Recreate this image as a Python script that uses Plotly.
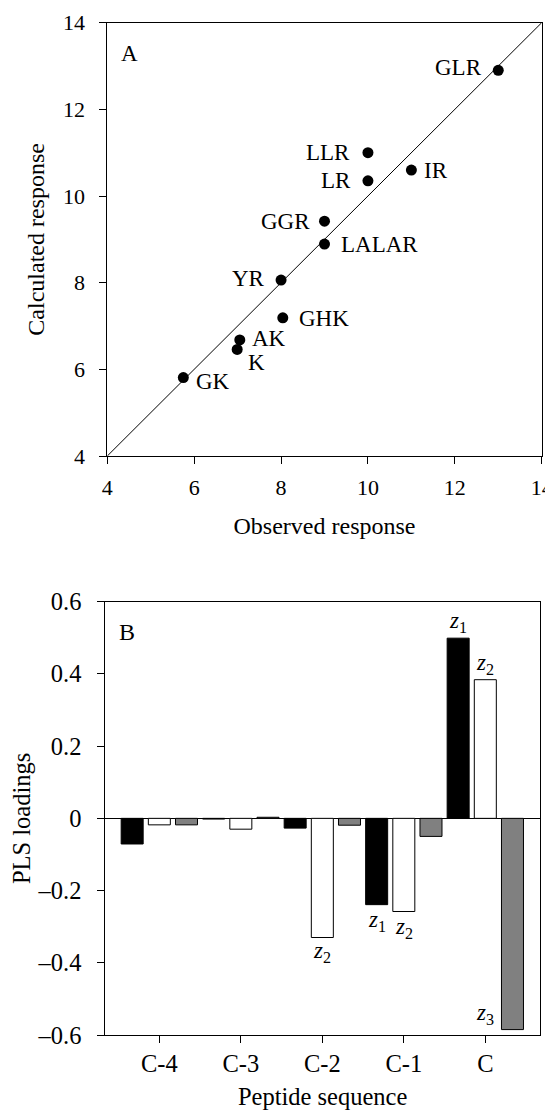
import plotly.graph_objects as go

# ---- Panel A data ----
peptides = ["GLR", "LLR", "LR", "IR", "GGR", "LALAR", "YR", "GHK", "AK", "K", "GK"]
observed = [13.0, 10.0, 10.0, 11.0, 9.0, 9.0, 8.0, 8.04, 7.05, 6.99, 5.75]
calculated = [12.9, 11.0, 10.35, 10.6, 9.42, 8.89, 8.06, 7.19, 6.68, 6.46, 5.81]
identity = [4, 14]
ytick_a_vals = [4, 6, 8, 10, 12, 14]

# ---- Panel B data ----
positions = ["C-4", "C-3", "C-2", "C-1", "C"]
z1 = [-0.071, -0.002, -0.027, -0.239, 0.499]
z2 = [-0.018, -0.030, -0.330, -0.258, 0.384]
z3 = [-0.018, 0.003, -0.019, -0.050, -0.585]
ytick_b_vals = [0.6, 0.4, 0.2, 0, -0.2, -0.4, -0.6]
ytick_b_text = ["0.6", "0.4", "0.2", "0", "\u20130.2", "\u20130.4", "\u20130.6"]

FONT = "Liberation Serif"
FS = 23

# label placement (style): (anchor side, xshift, yshift)
label_style = {
    "GLR": ("right", -14, 3), "LLR": ("right", -16, 0), "LR": ("right", -15, 0),
    "IR": ("left", 11, 0), "GGR": ("right", -13, 0), "LALAR": ("left", 14, 0),
    "YR": ("right", -14, 2), "GHK": ("left", 14, -1), "AK": ("left", 10, 1),
    "K": ("left", 9, -13), "GK": ("left", 11, -4),
}

fig = go.Figure()

fig.add_trace(go.Scatter(x=identity, y=identity, mode="lines",
                         line=dict(color="black", width=1), xaxis="x", yaxis="y",
                         showlegend=False, hoverinfo="skip"))
fig.add_trace(go.Scatter(x=observed, y=calculated, mode="markers",
                         marker=dict(color="black", size=11), xaxis="x", yaxis="y",
                         showlegend=False))

idx = list(range(len(positions)))
for vals, col in [(z1, "black"), (z2, "white"), (z3, "#808080")]:
    fig.add_trace(go.Bar(x=idx, y=vals, marker=dict(color=col, line=dict(color="black", width=1)),
                         xaxis="x2", yaxis="y2", showlegend=False))


def f(size):
    return dict(family=FONT, size=size, color="black")


tfont = f(FS)
annotations = []
for p, xo, yc in zip(peptides, observed, calculated):
    side, xs, ys = label_style[p]
    annotations.append(dict(x=xo, y=yc, xref="x", yref="y", text=p, showarrow=False,
                            xanchor=side, yanchor="middle", xshift=xs, yshift=ys,
                            font=tfont))

annotations.append(dict(x=0.028, y=0.93, xref="x domain", yref="y domain", text="A",
                        showarrow=False, xanchor="left", yanchor="middle", font=tfont))
annotations.append(dict(x=0.026, y=0.931, xref="x2 domain", yref="y2 domain", text="B",
                        showarrow=False, xanchor="left", yanchor="middle", font=f(24)))

slot = 1 / 3
zlabels = [
    (4 - slot, z1[4], "1", "bottom", 0),
    (4, z2[4], "2", "bottom", 0),
    (2, z2[2], "2", "top", 2),
    (3 - slot, z1[3], "1", "top", 0),
    (3, z2[3], "2", "top", 0),
    (4, z3[4], "3", "bottom", 0),
]
for xv, yv, n, ya, ysh in zlabels:
    annotations.append(dict(x=xv, y=yv, xref="x2", yref="y2",
                            text="<i>z</i><sub>%s</sub>" % n, showarrow=False,
                            xanchor="center", yanchor=ya, yshift=ysh, font=tfont))

axis_common = dict(showline=True, linecolor="black", linewidth=1, mirror=True,
                   ticks="outside", ticklen=7, tickcolor="black", tickwidth=1,
                   showgrid=False, automargin=False, ticklabeloverflow="allow")

OFF = 8  # page body offset in the browser
W, H = 553 - OFF, 1110 - OFF


def px_x(a, b):
    return [(a - OFF) / W, (b - OFF) / W]


def px_y(top, bottom):
    return [1 - (bottom - OFF) / H, 1 - (top - OFF) / H]


fig.update_layout(
    width=W, height=H, margin=dict(l=0, r=0, t=0, b=0, pad=0, autoexpand=False),
    paper_bgcolor="white", plot_bgcolor="white",
    barmode="group", bargap=0, bargroupgap=0.19,
    font=tfont,
    xaxis=dict(**axis_common, domain=px_x(107.3, 541.7), range=[4, 14],
               tickvals=ytick_a_vals, anchor="y", ticklabelstandoff=5, zeroline=False,
               tickfont=f(22),
               title=dict(text="Observed response", standoff=17, font=f(24))),
    yaxis=dict(**axis_common, domain=px_y(22.7, 456), range=[4, 14],
               tickvals=ytick_a_vals, anchor="x", ticklabelstandoff=10, zeroline=False,
               tickfont=f(22),
               title=dict(text="Calculated response", standoff=11, font=f(24))),
    xaxis2=dict(**axis_common, domain=px_x(105.3, 540), range=[-0.663, 4.671],
                tickvals=idx, ticktext=positions, anchor="y2", ticklabelstandoff=0,
                zeroline=False, tickfont=f(24.5),
                title=dict(text="Peptide sequence", standoff=15, font=f(24.5))),
    yaxis2=dict(**axis_common, domain=px_y(601.7, 1035), range=[-0.6, 0.6],
                tickvals=ytick_b_vals, ticktext=ytick_b_text, anchor="x2",
                ticklabelstandoff=11, zeroline=True, zerolinecolor="black",
                zerolinewidth=1, tickfont=f(24.5),
                title=dict(text="PLS loadings", standoff=9, font=f(24.5))),
    annotations=annotations,
)

fig.write_html("out.html")
